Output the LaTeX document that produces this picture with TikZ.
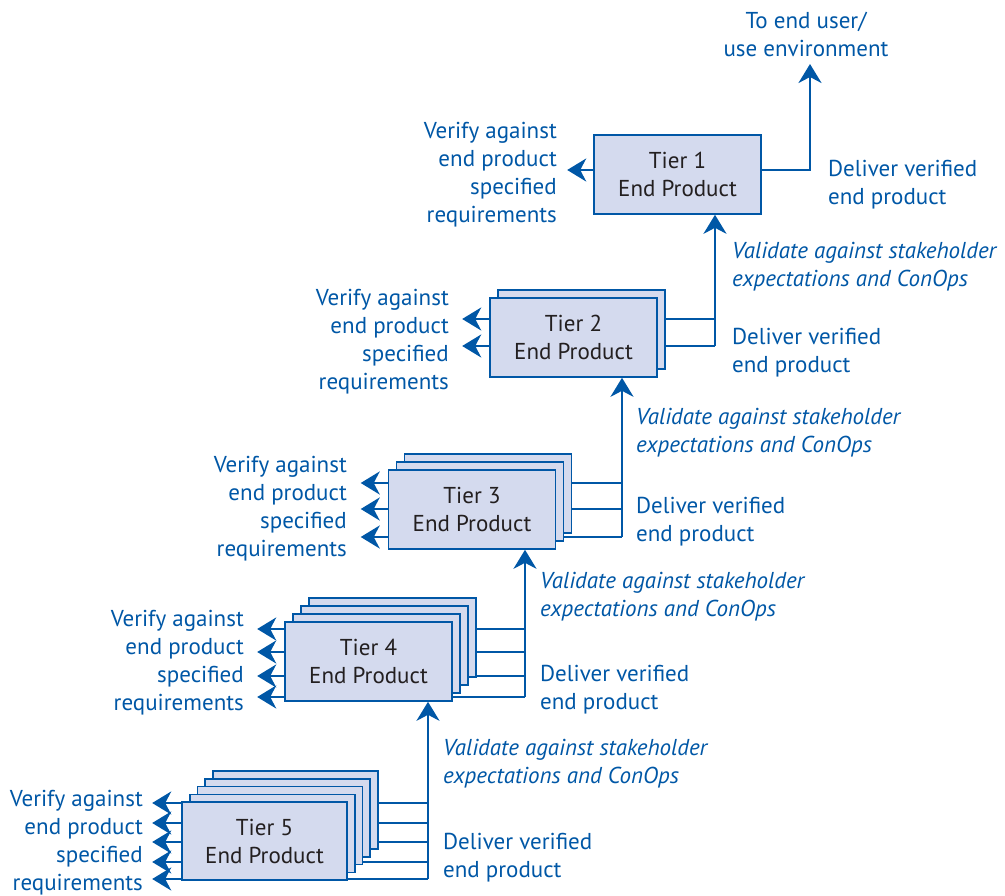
\documentclass[tikz,border=0pt]{standalone}
\usepackage{fontspec}
\setmainfont{PT Sans}
\usetikzlibrary{arrows.meta,calc}
\definecolor{lineblue}{RGB}{0,87,166}
\definecolor{boxfill}{RGB}{212,218,238}
\definecolor{textdark}{RGB}{35,31,32}
\pgfdeclarelayer{background}
\pgfsetlayers{background,main}
\tikzset{
  tierbox/.style={draw=lineblue, fill=boxfill, line width=1.6pt, minimum width=167pt, minimum height=79pt,
    inner sep=0pt, align=center, text=textdark, font=\fontsize{23}{28}\selectfont},
  conn/.style={draw=lineblue, line width=2.6pt},
  arr/.style={conn, -{Stealth[length=19pt,width=23pt,inset=6pt]}},
  lab/.style={text=lineblue, inner sep=0pt, font=\fontsize{23}{28}\selectfont},
  labl/.style={lab, align=right, anchor=east},
  labr/.style={lab, align=left, anchor=west},
  labv/.style={lab, align=left, anchor=west, font=\fontsize{23}{28}\selectfont\itshape},
}
\begin{document}
\begin{tikzpicture}[x=1pt,y=-1pt]
\useasboundingbox (0,0) rectangle (1005,896);

% ---- boxes (back layers first) ----
% Tier 1
\node[tierbox] (t1) at (677.5,174.5) {Tier 1\\End Product};
% Tier 2
\node[tierbox] (t2b1) at (573.5+8,337.5-8) {};
\node[tierbox] (t2) at (573.5,337.5) {Tier 2\\End Product};
% Tier 3
\node[tierbox] (t3b2) at (472+16,509.5-16) {};
\node[tierbox] (t3b1) at (472+8,509.5-8) {};
\node[tierbox] (t3) at (472,509.5) {Tier 3\\End Product};
% Tier 4
\node[tierbox] (t4b3) at (368.5+24,661.5-24) {};
\node[tierbox] (t4b2) at (368.5+16,661.5-16) {};
\node[tierbox] (t4b1) at (368.5+8,661.5-8) {};
\node[tierbox] (t4) at (368.5,661.5) {Tier 4\\End Product};
% Tier 5
\node[tierbox, minimum width=165pt, minimum height=78pt] (t5b4) at (264.5+30.8,841-30.8) {};
\node[tierbox, minimum width=165pt, minimum height=78pt] (t5b3) at (264.5+23.1,841-23.1) {};
\node[tierbox, minimum width=165pt, minimum height=78pt] (t5b2) at (264.5+15.4,841-15.4) {};
\node[tierbox, minimum width=165pt, minimum height=78pt] (t5b1) at (264.5+7.7,841-7.7) {};
\node[tierbox, minimum width=165pt, minimum height=78pt] (t5) at (264.5,841) {Tier 5\\End Product};

% ---- trunk coordinates ----
\coordinate (k1) at (810,170);
\coordinate (k1top) at (810,64);
\coordinate (k2) at (715,346);
\coordinate (k3) at (622,537);
\coordinate (k4) at (525,697);
\coordinate (k5) at (428,879);

% ---- connectors ----
\begin{pgfonlayer}{background}
% Tier 1
\coordinate (r) at (0,170);
\draw[arr] (t1.center |- r) -- ($(t1.west |- r)+(-26,0)$);
\draw[arr] (t1.center |- r) -- (k1) -- (k1top);
% Tier 2
\foreach \y in {319,346}{
  \coordinate (r) at (0,\y);
  \draw[arr] (t2.center |- r) -- ($(t2.west |- r)+(-27,0)$);
  \draw[conn] (t2.center |- r) -- (k2 |- r);
}
\draw[arr] (k2) -- (k2 |- t1.south);
% Tier 3
\foreach \y in {483,509,537}{
  \coordinate (r) at (0,\y);
  \draw[arr] (t3.center |- r) -- ($(t3.west |- r)+(-27,0)$);
  \draw[conn] (t3.center |- r) -- (k3 |- r);
}
\draw[arr] (k3) -- (k3 |- t2.south);
% Tier 4
\foreach \y in {629,652,676,697}{
  \coordinate (r) at (0,\y);
  \draw[arr] (t4.center |- r) -- ($(t4.west |- r)+(-27,0)$);
  \draw[conn] (t4.center |- r) -- (k4 |- r);
}
\draw[arr] (k4) -- (k4 |- t3.south);
% Tier 5
\foreach \y in {803,823,842,862,879}{
  \coordinate (r) at (0,\y);
  \draw[arr] (t5.center |- r) -- ($(t5.west |- r)+(-29,0)$);
  \draw[conn] (t5.center |- r) -- (k5 |- r);
}
\draw[arr] (k5) -- (k5 |- t4.south);
\end{pgfonlayer}

% ---- labels ----
\node[lab, align=center] (enduser) at (806,34) {To end user/\\use environment};
\node[labl] (v1) at (557,175) {Verify against\\end product\\specified\\requirements};
\node[labr] (d1) at (828,185) {Deliver verified\\end product};

\node[labl] (v2) at (449,342) {Verify against\\end product\\specified\\requirements};
\node[labv] (c2) at (732,267) {Validate against stakeholder\\expectations and ConOps};
\node[labr] (d2) at (732,353) {Deliver verified\\end product};

\node[labl] (v3) at (347,509) {Verify against\\end product\\specified\\requirements};
\node[labv] (c3) at (636,433) {Validate against stakeholder\\expectations and ConOps};
\node[labr] (d3) at (636,521.5) {Deliver verified\\end product};

\node[labl] (v4) at (244,663) {Verify against\\end product\\specified\\requirements};
\node[labv] (c4) at (540,597) {Validate against stakeholder\\expectations and ConOps};
\node[labr] (d4) at (540,689.5) {Deliver verified\\end product};

\node[labl] (v5) at (143,843) {Verify against\\end product\\specified\\requirements};
\node[labv] (c5) at (443,764) {Validate against stakeholder\\expectations and ConOps};
\node[labr] (d5) at (443,857.5) {Deliver verified\\end product};
\end{tikzpicture}
\end{document}
